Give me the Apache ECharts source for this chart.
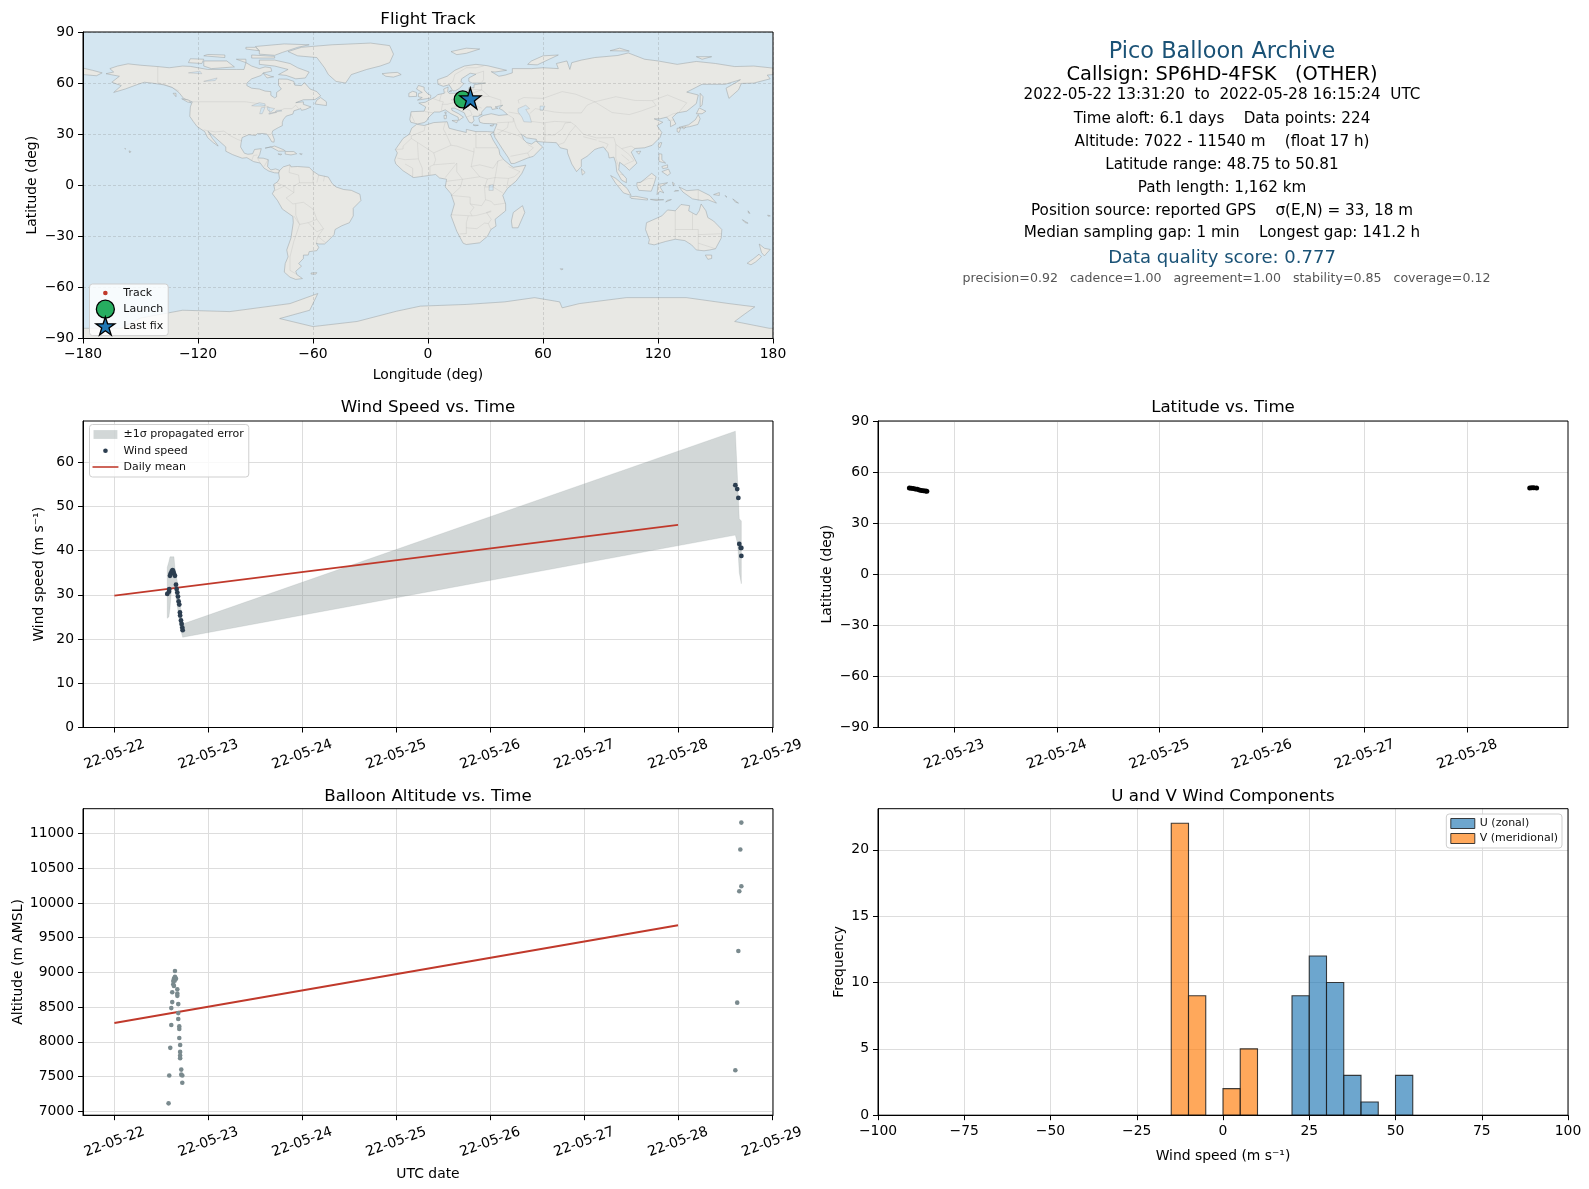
<!DOCTYPE html>
<html><head><meta charset="utf-8">
<style>html,body{margin:0;padding:0;background:#fff}#c{width:1589px;height:1189px}</style>
<script src="https://cdn.jsdelivr.net/npm/echarts@6/dist/echarts.min.js"></script>
</head><body><div id="c"></div>
<script>
// ---------- chart values ----------
const dateLabels = ['22-05-22','22-05-23','22-05-24','22-05-25','22-05-26','22-05-27','22-05-28','22-05-29'];
const dayTicks = [0,1,2,3,4,5,6,7];
const latDayTicks = [1,2,3,4,5,6];
// times are days after 2022-05-22 00:00 UTC
const windTimes = [.563,.581,.584,.592,.599,.61,.62,.627,.634,.645,.656,.663,.67,.677,.684,.691,.698,.70,.709,.716,.723,.727,6.61,6.63,6.642,6.652,6.667,6.674,6.674];
const windSpeeds = [30.2,30.7,31.3,34.3,34.8,35.3,35.6,35.3,34.8,34.3,32.3,31.3,30.5,29.6,28.5,27.8,26,25.3,24.2,23.4,22.6,22,54.8,53.9,51.9,41.5,40.6,40.6,38.8];
const bandTimes = [.563,.58,.592,.61,.634,.645,.67,.70,.727,6.61,6.635,6.652,6.674];
const bandUpper = [36.2,37.5,38.6,38.6,38.6,36,33,28,23.4,67,55.4,47.2,46.7];
const bandLower = [24.7,25,27,31.7,31.5,31,27.5,22.5,20.4,43.5,41.5,35,32.5];
const meanDays = [0,6];
const meanWind = [29.8,45.8];
const meanAlt = [8270,9680];
const latTimes = [.563,.58,.6,.62,.64,.66,.68,.7,.72,.733,6.61,6.63,6.65,6.677];
const latValues = [50.6,50.5,50.3,50.1,49.9,49.5,49.2,49,48.85,48.75,50.7,50.81,50.75,50.7];
const altTimes = [.577,.584,.595,.606,.606,.616,.616,.627,.627,.634,.634,.642,.645,.645,.656,.67,.67,.67,.68,.68,.68,.691,.691,.691,.70,.70,.70,.70,.712,.712,.723,.723,6.61,6.63,6.642,6.652,6.663,6.674,6.674];
const altValues = [7114,7514,7913,8242,8486,8572,8715,8829,8877,8805,8910,8880,8938,9020,8910,8758,8695,8662,8543,8414,8328,8222,8185,8056,7955,7855,7802,7765,7600,7527,7514,7411,7590,8564,9309,10169,10771,10241,11158];
const binLeft = [-15,-10,0,5,20,25,30,35,40,50];
const binSeries = ['V','V','V','V','U','U','U','U','U','U'];
const binCount = [22,9,2,5,9,12,10,3,1,3];
const yTicksWind = [0,10,20,30,40,50,60];
const yTicksAlt = [7000,7500,8000,8500,9000,9500,10000,10500,11000];
const yTicksHist = [0,5,10,15,20];
const launchPoint = [18.1,50.4];
const lastFixPoint = [22.1,51];
const trackLon = [18.1,18.8,19.4,20,20.6,21.2,21.6,21.9,22.1];
const trackLat = [50.4,50.1,49.8,49.2,48.75,49.3,50,50.6,50.81];

// info panel text
const infoTitle = 'Pico Balloon Archive';
const infoCall = 'Callsign: SP6HD-4FSK   (OTHER)';
const infoLines = ['2022-05-22 13:31:20  to  2022-05-28 16:15:24  UTC','Time aloft: 6.1 days    Data points: 224','Altitude: 7022 - 11540 m    (float 17 h)','Latitude range: 48.75 to 50.81','Path length: 1,162 km','Position source: reported GPS    σ(E,N) = 33, 18 m','Median sampling gap: 1 min    Longest gap: 141.2 h'];
const infoScore = 'Data quality score: 0.777';
const infoSub = 'precision=0.92   cadence=1.00   agreement=1.00   stability=0.85   coverage=0.12';

// map outlines, lon/lat
const northAmerica = [[-168,65.5],[-164,66.5],[-166,68.5],[-162,70],[-156.5,71.3],[-150,70.5],[-141,69.7],[-135,69],[-128,70],[-124,69.8],[-115,68],[-108,68],[-100,68],[-96,68],[-95,72],[-92,70],[-88,68.5],[-85,69.5],[-82,69],[-81.5,67],[-86,66],[-87,64.5],[-92,62.5],[-94.5,60],[-94.5,58.5],[-92,57],[-88,56.5],[-85,55.3],[-82,55],[-82,52.8],[-80,51.3],[-79,52],[-79,54.5],[-76.5,56.5],[-78,58.8],[-78,62.4],[-73.5,62.3],[-70,61],[-69.5,58.8],[-66,58.5],[-64.5,60.3],[-61.5,56.5],[-58,55],[-56,52.5],[-59,50.3],[-65,50.2],[-69,48.5],[-65,49],[-65,47.5],[-61,46],[-64,44.5],[-66,44],[-66.5,45.2],[-67,44.8],[-70,43.7],[-70.5,41.8],[-74,40.6],[-75.5,38.5],[-76,36.9],[-76,35],[-78,33.9],[-81,32],[-81.4,30.5],[-80.2,27],[-80.3,25.3],[-81.5,25.5],[-82.8,28],[-84,30],[-86,30.4],[-89,30.3],[-90,29.2],[-93.5,29.7],[-97,28],[-97.5,25],[-97.8,22.5],[-95.8,18.8],[-94,18.2],[-91.5,18.5],[-90.5,21],[-87,21.5],[-87.8,18],[-88.8,16],[-86,15.9],[-83.3,15],[-83.7,11],[-82,9],[-79.5,9.6],[-77.4,8.7],[-77.9,7.2],[-80,7.3],[-83,8.3],[-85.5,10],[-87.5,13],[-91,13.9],[-94.5,16.2],[-97,15.9],[-102,18],[-105.5,20],[-105.5,22.5],[-109,26],[-112.5,29.5],[-114.8,31.7],[-112.5,27.5],[-110,24],[-109.5,23],[-112,25],[-115,28],[-116.5,31.5],[-120.5,34.5],[-122.5,37.5],[-124.3,40.5],[-124,46],[-123,49],[-127.5,51],[-130,54.5],[-133.5,57.5],[-138,59],[-144,60],[-148,60.5],[-152,59],[-158,56.5],[-164,54.5],[-160,58.5],[-165,60.5],[-161,64]];
const southAmerica = [[-77.4,8.7],[-75.5,10.8],[-72,12],[-71.5,10.8],[-68,11],[-62,10.5],[-60,8.3],[-57,6],[-52,4.8],[-50,1],[-48,-1],[-44,-2.5],[-40,-3],[-35.5,-5.3],[-35,-9],[-39,-13.5],[-39,-18],[-41,-22],[-45,-23.8],[-48.5,-26],[-49,-29],[-52,-32.5],[-54,-34.5],[-57,-34.5],[-58.3,-34],[-57,-36.5],[-58,-38.4],[-62,-39],[-62.5,-41],[-65,-41],[-65,-43],[-67.5,-46],[-66,-47.5],[-69,-50.5],[-68.4,-52.5],[-65.5,-54.8],[-69,-55.3],[-72,-54],[-75,-51],[-74.5,-46],[-73,-42],[-73.7,-38],[-71.5,-31],[-70.3,-22],[-70.5,-18.3],[-76,-14],[-78.5,-9],[-81.2,-5],[-80,-2.5],[-80.5,.5],[-78.5,2],[-77.5,4],[-77.9,7.2]];
const eurasia = [[-5.5,36],[-9,37],[-9.5,38.7],[-8.8,43.2],[-2,43.5],[-1.2,46],[-4.8,48.3],[-1.5,48.7],[1.5,50.5],[4,52],[5,53.2],[8.5,54],[8.2,56.5],[10.5,57.7],[10.3,55],[11,54],[14,54],[18.5,54.7],[21,55.5],[21.5,57.5],[24,57.2],[24,59],[28,59.7],[30,60],[23,60],[21.3,61],[21.3,63],[25,65.2],[22,65.8],[17.5,62.5],[17.2,60.7],[18.7,59.7],[16.5,57],[14.3,55.5],[13,55.4],[11,59],[8,58.1],[5.2,59.3],[5,62],[10,64],[14,67.5],[19,70],[25,71],[31,70.2],[41,67.5],[35,66.5],[33,66.7],[37,64],[40.3,64.7],[44,66],[44,68.5],[54,68.5],[60,69],[68,68.5],[67,71.5],[72.5,73],[74,68],[75,72],[80,73.5],[87,75],[99,76.2],[104.5,77.7],[113,74],[120,73],[130,71],[140,72.7],[150,71.5],[160,69.7],[170,70],[180,68.8],[180,65],[177,64.7],[178.5,62.5],[170,60],[163.5,59.8],[162,56],[157,51],[155.5,57],[161,60.5],[163,62],[155,59.3],[143,59.3],[135,54.7],[141,53],[140,48],[135,43.5],[130,42.5],[127.5,39.8],[129.3,36],[126.5,34.4],[126.5,37.5],[124.5,40],[121,39],[118,39],[122.5,37],[119.5,35],[122,31],[121,28],[117,23.5],[113,22],[108,21.6],[106,19.5],[109,13],[105,8.8],[103,11],[100,13.5],[99.5,9],[103.5,4],[103.5,1.5],[101,3],[98.5,8],[98,13],[97,16.5],[94.5,16],[94,19],[91.5,22.5],[89,21.8],[87,21],[83,17],[80,15],[80,11],[77.5,8],[75,12.5],[72.8,19],[72.7,21],[69,22],[67,25],[61,25.3],[57,25.7],[56.5,27],[51.5,27.8],[48.7,30],[50,26.7],[51.5,25],[54,24.2],[56.3,26],[59.8,22.5],[55,17],[52,16],[45,12.8],[43.3,12.8],[42,16],[39,21],[35,28],[34.5,29.5],[34.3,31.3],[36,36],[32,36.2],[29,36.3],[27,37],[26.5,39.5],[29,41],[33,42],[37,41],[41.5,41.5],[39,44],[37,45.2],[39,47],[35,46],[36.5,45.2],[33.5,44.5],[33,46],[30.5,46],[28,43],[28,41.5],[26,40.5],[23.5,40.5],[24,38],[23,36.5],[21.5,37],[19.5,41],[19,42.5],[14,45.3],[12.3,45.3],[12.5,44],[16,42],[18.5,40],[16,38],[15.7,40],[12,42],[9,44.3],[6,43],[3.2,43],[0,39.5],[-.5,38],[-2,36.8]];
const eurasiaWest = [[-180,68.8],[-175,67.5],[-170,66],[-173,64.3],[-180,65]];
const africa = [[-5.9,35.8],[-2,35.1],[3,36.8],[10,37.3],[11,33.5],[15,32.3],[20,31],[20,32.8],[25,31.5],[31,31.5],[34.3,31.2],[32.6,29.9],[34,26.5],[37,21],[37.5,18],[39.5,15],[43.2,11.5],[44.5,10.5],[51,11.8],[49,7],[46,2.5],[41.5,-1.8],[39,-6],[40.5,-11],[40.5,-15],[35,-20],[35.5,-24],[32.8,-26],[31,-30],[27,-33.8],[20,-34.8],[18.3,-34],[15,-27],[12,-18],[13.8,-11],[12,-5],[9,-1],[9.7,3.5],[6,4.3],[4,6.3],[-3,5.2],[-7.5,4.5],[-13,8.5],[-16.8,12.5],[-17.4,14.8],[-16,19],[-17,21],[-13,27.5],[-9.7,30],[-8.5,33.5]];
const australia = [[114,-22],[113.5,-26],[115.5,-32],[115,-34.3],[118,-35],[124,-33],[129,-31.7],[134,-32.5],[137.5,-35],[140,-38],[144,-38.5],[147,-38],[150,-37.3],[153,-31],[153.3,-26],[149,-21],[146,-19],[145,-15],[142.5,-11],[141.5,-15],[140,-17.5],[136,-15],[136.5,-12],[132,-11.3],[129,-15],[125,-14.5],[122,-18],[117,-20.5]];
const antarctica = [[-180,-84],[-160,-84],[-150,-78],[-128,-73.4],[-103.4,-74.2],[-72,-69.5],[-57.5,-63.6],[-61.7,-73.4],[-77.4,-78.3],[-60,-83],[-37,-80],[-16.5,-74],[-4,-71],[20,-70],[40,-68.5],[55.6,-66],[68.7,-68.5],[70,-72],[79,-69.5],[103.5,-66],[134.8,-66],[157,-69.5],[170.5,-71.4],[164.4,-76.3],[160,-80],[178,-84],[180,-84],[180,-90],[-180,-90]];
const greenland = [[-73,78.5],[-66,81],[-50,82.5],[-30,83.5],[-20,82],[-18,77],[-20,72],[-25,70],[-32,68],[-40,65],[-43,60],[-48,61],[-52,65],[-54,69],[-58,75],[-68,76]];
const arcticIslands = [
 [[-80,73.5],[-72,71.5],[-68,69],[-62,66.5],[-64,63],[-69,62.5],[-74,64.5],[-78,65],[-73,68],[-80,70],[-88,71],[-88,73.5]],
 [[-117,73],[-105,73],[-101,69.5],[-113,68.5],[-117,70]],
 [[-88,77],[-80,76.3],[-76,78],[-68,81],[-62,82.5],[-75,83],[-90,81.5],[-88,79]],
 [[-125,72],[-118,71.5],[-117,74],[-124,74.3]],
 [[-92,74.7],[-80,74.7],[-80,75.7],[-92,76.5]],
 [[-117,76],[-106,75],[-106,76.5],[-115,76.8]],
 [[-100,74],[-95,72],[-95,74]],
 [[-95,80],[-88,79],[-90,81],[-95,81]],
 [[-86,65.8],[-82,64],[-80.5,63.7],[-84,63]],
 [[12,78.5],[20,80.5],[27,80],[20,77.5],[15,76.7]],
 [[52,71],[57,70.7],[68,76.5],[60,76],[54,73]],
 [[95,79],[100,80.5],[105,78.8]],
 [[140,75.5],[148,75.5],[143,74]]
];
const atlanticIslands = [
 [[-59,47.7],[-53,46.8],[-53,49],[-56,51.5],[-58,50]],
 [[-24,65.5],[-22,64],[-18,63.5],[-14,65],[-16,66.3],[-20,66]],
 [[-85,21.8],[-80,23],[-75,20.7],[-74.5,20.1],[-78,20],[-82,22.5]],
 [[-74.5,19.8],[-70,19.8],[-68.5,18.5],[-71.5,17.8],[-74.5,18.3]],
 [[-78.3,18.4],[-76.3,18.2],[-77,17.8]],
 [[-67,18.5],[-65.6,18.4],[-66,18]],
 [[-61,-51.5],[-58,-51.3],[-58.5,-52.2],[-61,-52.2]],
 [[-128.5,50.8],[-125,50],[-123.5,48.4],[-125.5,48.9]],
 [[-133,54],[-131.5,54],[-131.5,52]],
 [[-156,20.2],[-155,19.8],[-155.6,19]],
 [[-158.2,21.6],[-157.7,21.4],[-158,21.2]],
 [[-5.5,50],[1.3,51.2],[1.5,52.8],[0,53.5],[-2,56],[-2,57.6],[-5,58.6],[-6,56.5],[-3,54.5],[-5,53.8],[-5,52],[-3,51.5]],
 [[-10,52],[-6,52.2],[-6,54.5],[-8,55.2],[-10,54]],
 [[12.5,38],[15.5,38.2],[15,36.7]],
 [[8.3,41],[9.7,41],[9.5,39.1],[8.5,39]],
 [[8.7,42.9],[9.5,43],[9.3,41.5]],
 [[23.5,35.5],[26.3,35.2],[24.5,34.9]],
 [[32.3,35],[34.5,35.6],[33.5,34.7]],
 [[12,55.8],[12.5,55.3],[11,55]],
 [[49.3,-12],[50.5,-16],[47,-25],[44,-25],[43.5,-21],[44.5,-16]]
];
const asiaPacificIslands = [
 [[142,54],[143.5,52],[143,47],[142,46],[142,50]],
 [[140,42],[141.5,45.4],[145,43.5],[143,42]],
 [[130.9,34],[136,35.5],[139.5,38.5],[141,41.5],[142,39],[140.8,35.7],[136.5,34.4],[132,33.7]],
 [[130,33.5],[131.8,33.5],[131,31],[130,31.5]],
 [[132.5,34],[134.5,34.2],[133.5,33]],
 [[121,25],[122,25],[121,22],[120,23]],
 [[108.7,19.8],[111,20],[110,18.2]],
 [[120.5,18.5],[122,18.3],[122,15],[124,13],[120.5,14]],
 [[122,8],[125.5,9.5],[126.5,7],[125,5.7]],
 [[122,11],[125,12],[125,10.3],[122.5,9.8]],
 [[95.3,5.7],[98,4],[104,-2],[106,-6],[102,-4.5],[98,1]],
 [[105.2,-6.8],[108.5,-6.5],[114.5,-7.8],[114.5,-8.7],[106,-7.7]],
 [[109,1.5],[111,1.7],[116.7,7],[119,5],[118,1],[116.5,-3.5],[110,-3],[109,-.5]],
 [[119.5,-5.5],[120,.5],[125,1.5],[121,-1],[123,-4.5],[121,-3.5]],
 [[131,-1],[135,-3.2],[141,-2.6],[147,-6],[150.5,-10.5],[146,-8.5],[143,-9],[138,-8],[133,-4]],
 [[80,9.7],[82,7.5],[80.5,6]],
 [[116,-8.3],[120,-8.3],[123,-8.5],[119,-9]],
 [[124,-9.8],[127,-8.4],[125,-8.8]],
 [[127.5,1.8],[128.5,1],[128,-.5]],
 [[129,-3],[130.8,-3.2],[128.5,-3.6]],
 [[149,-5.5],[152,-4.3],[152,-6]],
 [[155,-6],[156,-7],[155.5,-6.8]],
 [[159,-8],[162,-10.5],[160.5,-10]],
 [[164,-20.2],[167,-22.3],[165.5,-22]],
 [[167,-15],[168,-16.5],[167.2,-16.3]],
 [[177.2,-17.5],[178.6,-18],[177.5,-18.2]],
 [[144.7,-41],[148,-41],[148,-43],[146,-43.5]],
 [[172.8,-34.5],[175.5,-37],[178.5,-37.7],[175.5,-41.5],[174,-39.5]],
 [[172.7,-40.5],[174,-42],[171,-45],[168.5,-46.7],[166.5,-45.8],[170,-43]],
 [[69,-49],[70.5,-49.2],[69.5,-49.7]]
];
const inlandWaters = [
 [[47,45],[51,47],[53,45],[51,44.5],[53,41],[54,37],[50,37.3],[49,40],[47,43]],
 [[58.5,46.5],[61,46.5],[60,44],[58.5,44]],
 [[-92,46.7],[-88,48.5],[-85,47.8],[-85,46.5],[-90,46.5]],
 [[-87.8,42],[-86.5,42],[-85,45.8],[-87,45.5]],
 [[-84,46],[-80,45],[-82,43],[-83.5,44]],
 [[-83,41.7],[-79,42.8],[-79,43],[-83,42.3]],
 [[-79.7,43.3],[-76.3,43.5],[-76.5,44],[-79,44]],
 [[-125,66],[-119,67],[-118,65.5]],
 [[-117,61],[-110,63],[-111,61.5]],
 [[31.8,-3],[34,-3],[34,.3],[32,0]]
];
const oceanBox = [[-180,-90],[180,-90],[180,90],[-180,90]];
const borders = [
 [[-141,69.7],[-141,60.3],[-137,59],[-130,55.5]],
 [[-123,49],[-95,49],[-89,48],[-83,46],[-82.5,42],[-79,43],[-75,45],[-71,45],[-69,47],[-67.5,45]],
 [[-117,32.5],[-111,31.3],[-106.5,31.8],[-103,29],[-99.5,27],[-97.2,26]],
 [[-92,14.5],[-91,17.5],[-89,17.8]],[[-89,15.9],[-87.5,13]],[[-83.5,15],[-85.5,11]],
 [[-72,11.8],[-72.5,7.5],[-67.5,6],[-67,1.5]],
 [[-60,8.3],[-60,5],[-60,1.5],[-67,1.5],[-70,-.5],[-70,-4.3],[-74,-7.5],[-70.5,-11],[-65,-10],[-60,-14],[-58,-20],[-54.5,-25.5],[-57.5,-30],[-53.5,-33.7]],
 [[-80.3,-3.4],[-75,-.5],[-70,-4.3]],[[-79,1.5],[-75,-.5]],
 [[-70,-18],[-67,-23],[-70,-33],[-72,-42],[-72,-50],[-68.5,-52.3]],
 [[-69,-11],[-69,-17.5],[-67,-23],[-62.5,-22],[-58,-20]],
 [[-62.5,-22],[-58,-27.3],[-54.5,-25.5]],[[-58.3,-34],[-57.5,-30]],
 [[-57,6],[-58,1.5]],[[-54,5.5],[-54.5,2.3]],
 [[9,37],[8,33],[9.5,30],[12,23.5],[15,23],[24,19.5]],[[25,31.5],[25,22],[36.5,22]],[[24,22],[24,19.5]],
 [[-8.7,27.5],[3,19],[12,23.5]],[[-17,21],[-13,21.3],[-13,23],[-8.7,27.5]],[[-12,15],[-5,15.5],[-5.5,25]],
 [[-1.5,35],[-2,32],[-8.7,29],[-8.7,27.5]],[[3,19],[4,15],[3,12],[14,13]],[[-12,15],[-16,16]],[[-5,15.5],[-3,10],[-3,5.2]],[[1,6],[1,11],[3,12]],[[-8,4.5],[-8,10],[-12,12.5]],
 [[24,19.5],[22.5,11],[27,5],[31,3.7],[35,4.5],[42,4],[41,-1.6]],[[36.5,14.3],[35,4.5]],[[42,11],[48,8],[45,5],[42,4]],[[22.5,11],[27,12],[34,10],[36.5,14.3],[39,15]],
 [[9,4.5],[15,13]],[[9.5,2.3],[18,3.5],[27,5]],[[15,13],[15,8],[18,3.5],[17,-1],[12.2,-6]],
 [[12.2,-6],[22,-7],[22,-11],[28,-12],[30,-8.5],[29.5,-1.5],[31,3.7]],[[34,-1],[39,-4.5]],[[29.5,-1],[34,-1],[35,4.5]],[[40.5,-10.5],[34.5,-11.5],[33,-9.5],[30,-8.5]],
 [[11.8,-17.3],[23,-18],[25,-17.8],[33,-15.5]],[[22,-11],[24,-13],[22,-16],[23,-18]],[[16.5,-28.6],[20,-28.4],[20,-22],[21,-18]],[[20,-25],[25.5,-25.5],[29.5,-22.2],[31.5,-22.5],[32.8,-26]],[[33,-15],[30.5,-16],[33,-20],[31.5,-22.5]],
 [[-1.8,43.3],[3,42.5]],[[2.5,51],[6,49.5],[8,49],[7.5,47.5],[7,44]],[[-9,42],[-7,37.2]],[[7,53.5],[6,49.5]],[[8.7,54.8],[9.5,54.7]],
 [[14.2,54],[15,51],[12,50.3],[13.8,48.7],[10,47.5],[7.5,47.5]],[[15,51],[19,49.5],[22,49]],[[13.8,48.7],[17,48],[22,48],[28,45.3]],[[13.5,46.5],[16,46],[22,44],[23,41.3],[20,40]],[[22,48],[24,51.7],[32,52.2],[38,50],[38,47]],[[24,51.7],[23,54],[21,55.5]],[[23,54],[28,56],[28,59.5]],[[21,56.5],[28,56]],[[32,52.2],[28,56]],
 [[29,41],[26.5,41.8],[28,41.5]],[[11,59],[13,61],[14,65],[20,69],[25,69],[29,70]],[[25,65.5],[29,67],[29,62],[28,60.5]],
 [[47,50],[50,51.5],[60,51],[70,55],[77,53.5],[87,49]],[[47.5,48],[47,50]],[[87,49],[98,52],[108,49.8],[117,49.7],[119,46.8],[111,43.5],[105,41.5],[96,42.7],[87,49]],[[117,49.7],[125,53],[135,48.4],[131,43]],[[124.5,40],[128,42],[130.5,42.5]],[[125,38],[128.5,38.4]],
 [[53,42],[56,45],[66,43],[71,42.5],[80,42.5],[83,47],[87,49]],[[54,37.5],[60,36.6],[66,37.5],[74.5,37]],
 [[44.5,39.5],[46,34],[48.5,30]],[[61,25.3],[61,31],[61,36.6]],[[61,29.6],[66,29.5],[70,33],[71.5,36.5],[74.5,37]],[[68,23.8],[71,25],[74,31],[77,35]],
 [[74.5,37],[77,35],[81,30],[88,27.8],[97,28],[98,24],[101,21.5],[106,23],[108,21.6]],[[81,28.5],[88,26.5]],[[89,26],[92,25],[94,24],[92.5,21]],
 [[35,29.4],[39,32],[47.5,29],[50,26.5]],[[36,33],[39,32],[41.5,34],[42,37]],[[43,17],[52,19],[55,22],[52,24]],[[52,19],[53,16.5]],[[36,36.7],[44.5,37.2],[44.5,39.5],[41.5,41.5]],[[42,43],[48,41.8]],
 [[98,24],[98,16],[99.5,11]],[[101,21.5],[105,18],[107.5,14.5],[102.5,12]],[[101,18],[105,14.3]],[[100.2,6.5],[102,6]],[[110,1.5],[115,4],[117.5,4]],
 [[141,-2.6],[141,-9]],[[129,-15],[129,-31.7]],[[138,-16.5],[138,-26],[141,-26],[141,-38]],[[129,-26],[138,-26]],[[141,-29],[153,-28.5]],[[141,-34],[150,-37.3]]
];

// ---------- layout & style ----------
const FONT = 'DejaVu Sans';
const L = 83, R = 878, W = 690, H = 306.5;
const T1 = 32, T2 = 421, T3 = 808.7;
const GRID = '#dddddd';
const uFill = 'rgba(31,119,180,0.65)', vFill = 'rgba(255,127,14,0.68)', barEdge = 'rgba(30,30,30,0.85)';
const BAND = 'rgba(127,140,141,0.35)';
const NAVY = '#2c3e50', RED = '#c0392b', ALT = '#7a8a8e';
const fullLand = [northAmerica,southAmerica,eurasia,eurasiaWest,africa,australia,antarctica,greenland].concat(arcticIslands,atlanticIslands,asiaPacificIslands);
const STAR = 'path://M50 0L61.2 34.5L97.6 34.5L68.2 55.9L79.4 90.5L50 69.1L20.6 90.5L31.8 55.9L2.4 34.5L38.8 34.5Z';
const trackIcon = 'path://M0 0M100 70M50 26A9 9 0 1 0 50.01 26Z';
const legendDot = 'path://M0 0M100 54M50 18A9 9 0 1 0 50.01 18Z';
const legendBar = 'path://M0 0M100 54M0 24L100 24L100 30L0 30Z';
const legendPatch = 'path://M0 0M100 54M4 10L96 10L96 44L4 44Z';

function minus(v){ return String(v).replace('-', '\u2212'); }
function merge(a,b){ const r=Object.assign({},a); for(const k in b){ if(b[k]&&typeof b[k]==='object'&&!Array.isArray(b[k])&&a[k]) r[k]=merge(a[k],b[k]); else r[k]=b[k]; } return r; }
function xAxis(grid, o){
  const base = {gridIndex:grid,type:'value',scale:true,
    axisLine:{show:true,onZero:false,lineStyle:{color:'#000',width:1}},
    axisTick:{show:true,length:5,lineStyle:{color:'#000',width:1}},
    axisLabel:{show:true,color:'#000',fontFamily:FONT,fontSize:13.9,margin:9,hideOverlap:false,showMinLabel:true,showMaxLabel:true},
    splitLine:{show:true,lineStyle:{color:GRID,width:1}},
    nameTextStyle:{color:'#000',fontFamily:FONT,fontSize:13.9}};
  return merge(base,o);
}
function yAxis(grid, o){
  const base = {gridIndex:grid,type:'value',scale:true,
    axisLine:{show:true,onZero:false,lineStyle:{color:'#000',width:1}},
    axisTick:{show:true,length:5,lineStyle:{color:'#000',width:1}},
    axisLabel:{show:true,color:'#000',fontFamily:FONT,fontSize:13.9,margin:9,hideOverlap:false,showMinLabel:true,showMaxLabel:true,formatter:minus},
    splitLine:{show:true,lineStyle:{color:GRID,width:1}},
    nameLocation:'middle',nameRotate:90,
    nameTextStyle:{color:'#000',fontFamily:FONT,fontSize:13.9}};
  return merge(base,o);
}
function timeX(grid,min,max,ticks){
  return xAxis(grid,{min,max,
    axisTick:{customValues:ticks},
    axisLabel:{customValues:ticks,rotate:20,margin:27,align:'center',verticalAlign:'middle',formatter:v=>dateLabels[Math.round(v)]}});
}
function polySeries(name,polys,style,xi,z,closed){
  return {type:'custom',name,xAxisIndex:xi,yAxisIndex:xi,z,silent:true,animation:false,clip:true,
    data:polys.map((_,i)=>i),
    renderItem:(p,api)=>{
      const pts=polys[api.value(0)].map(q=>api.coord(q));
      return {type:closed?'polygon':'polyline',shape:{points:pts},style};
    }};
}
function titleText(text,cx,cy,size,color){
  return {text,left:cx,top:cy-size*0.62,textAlign:'center',padding:0,
    textStyle:{fontFamily:FONT,fontSize:size,fontWeight:'normal',color:color||'#000',lineHeight:size*1.2}};
}
function legendBase(o){
  return Object.assign({orient:'vertical',backgroundColor:'rgba(255,255,255,0.82)',borderColor:'#cfcfcf',borderWidth:1,borderRadius:3,z:20,
    textStyle:{fontFamily:FONT,fontSize:11,color:'#111'},selectedMode:false},o);
}

const CX_L = L+W/2, CX_R = R+W/2, INFO = 1222, INFO_SUB = 1226.5;
const titles = [
  titleText('Flight Track',CX_L,20,16.67),
  titleText('Wind Speed vs. Time',CX_L,407.5,16.67),
  titleText('Latitude vs. Time',CX_R,407.5,16.67),
  titleText('Balloon Altitude vs. Time',CX_L,796.5,16.67),
  titleText('U and V Wind Components',CX_R,796.5,16.67),
  titleText(infoTitle,INFO,53,22.4,'#1a5276'),
  titleText(infoCall,INFO,75,19.4),
  titleText(infoScore,INFO,258.5,18,'#1a5276'),
  titleText(infoSub,INFO_SUB,278.7,12.58,'#555555')
];
const infoY = [95.5,119.5,142.8,165.5,188.7,211.7,233.7];
infoLines.forEach((t,i)=>titles.push(titleText(t,INFO,infoY[i],15.2)));

const option = {
  animation:false,
  backgroundColor:'#fff',
  title:titles,
  grid:[
    {left:L,top:T1,width:W,height:H},
    {left:L,top:T2,width:W,height:H},
    {left:R,top:T2,width:W,height:H},
    {left:L,top:T3,width:W,height:H},
    {left:R,top:T3,width:W,height:H}
  ].map(g=>Object.assign(g,{show:true,z:6,borderColor:'#000',borderWidth:1,backgroundColor:'transparent',containLabel:false})),
  xAxis:[
    xAxis(0,{z:5,min:-180,max:180,interval:60,name:'Longitude (deg)',nameLocation:'middle',nameGap:30,
      axisLabel:{formatter:minus},splitLine:{lineStyle:{color:'rgba(120,120,120,0.24)',type:[3,2],width:1}}}),
    timeX(1,-0.334,7.011,dayTicks),
    timeX(2,.257,6.983,latDayTicks),
    merge(timeX(3,-0.334,7.011,dayTicks),{name:'UTC date',nameLocation:'middle',nameGap:52}),
    xAxis(4,{min:-100,max:100,interval:25,name:'Wind speed (m s\u207B\u00B9)',nameLocation:'middle',nameGap:34,axisLabel:{formatter:minus}})
  ],
  yAxis:[
    yAxis(0,{z:5,min:-90,max:90,interval:30,name:'Latitude (deg)',nameGap:44,splitLine:{lineStyle:{color:'rgba(120,120,120,0.24)',type:[3,2],width:1}}}),
    yAxis(1,{min:0,max:69.3,name:'Wind speed (m s\u207B\u00B9)',nameGap:37,axisTick:{customValues:yTicksWind},axisLabel:{customValues:yTicksWind}}),
    yAxis(2,{min:-90,max:90,interval:30,name:'Latitude (deg)',nameGap:44}),
    yAxis(3,{min:6943,max:11358,name:'Altitude (m AMSL)',nameGap:58,axisTick:{customValues:yTicksAlt},axisLabel:{customValues:yTicksAlt}}),
    yAxis(4,{min:0,max:23.1,name:'Frequency',nameGap:32,axisTick:{customValues:yTicksHist},axisLabel:{customValues:yTicksHist}})
  ],
  legend:[
    legendBase({left:89.5,top:284,padding:[0,5,0,3],itemWidth:26,itemHeight:18,itemGap:-2.5,
      data:[
        {name:'Track',icon:trackIcon,itemStyle:{color:'#c0392b',borderWidth:0,opacity:1}},
        {name:'Launch',icon:'circle',itemStyle:{color:'#27ae60',borderColor:'#000',borderWidth:1.3,opacity:1}},
        {name:'Last fix',icon:STAR,itemStyle:{color:'#1f77b4',borderColor:'#000',borderWidth:1.3,opacity:1}}
      ]}),
    legendBase({left:89.5,top:424.5,padding:[3,5,3,3],itemWidth:26,itemHeight:14,itemGap:2.25,
      data:[
        {name:'\u00B11\u03C3 propagated error',icon:legendPatch,itemStyle:{color:BAND,borderWidth:0}},
        {name:'Wind speed',icon:legendDot,itemStyle:{color:NAVY,borderWidth:0,opacity:1}},
        {name:'Daily mean',icon:legendBar,itemStyle:{color:RED,borderWidth:0}}
      ]}),
    legendBase({right:27,top:814,padding:[4,4,4,4],itemWidth:24,itemHeight:10,itemGap:4,
      data:[
        {name:'U (zonal)',icon:'rect',itemStyle:{color:uFill,borderColor:barEdge,borderWidth:1}},
        {name:'V (meridional)',icon:'rect',itemStyle:{color:vFill,borderColor:barEdge,borderWidth:1}}
      ]})
  ],
  series:[
    // map
    polySeries('ocean',[oceanBox],{fill:'#d4e6f1',stroke:'none'},0,1,true),
    polySeries('land',fullLand,{fill:'#e8e8e4',stroke:'rgba(150,155,158,0.6)',lineWidth:0.8},0,1,true),
    polySeries('waters',inlandWaters,{fill:'#d4e6f1',stroke:'rgba(150,155,158,0.5)',lineWidth:0.6},0,1,true),
    polySeries('borders',borders,{fill:'none',stroke:'rgba(150,150,150,0.22)',lineWidth:0.8},0,1,false),
    {type:'scatter',name:'Track',xAxisIndex:0,yAxisIndex:0,z:8,symbolSize:4,itemStyle:{color:'#c0392b',opacity:1},data:trackLon.map((v,i)=>[v,trackLat[i]])},
    {type:'scatter',name:'Launch',xAxisIndex:0,yAxisIndex:0,z:9,symbol:'circle',symbolSize:17,itemStyle:{color:'#27ae60',borderColor:'#000',borderWidth:1.3,opacity:1},data:[launchPoint]},
    {type:'scatter',name:'Last fix',xAxisIndex:0,yAxisIndex:0,z:10,symbol:STAR,symbolSize:21,itemStyle:{color:'#1f77b4',borderColor:'#000',borderWidth:1.3,opacity:1},data:[lastFixPoint]},
    // wind
    {type:'custom',name:'\u00B11\u03C3 propagated error',xAxisIndex:1,yAxisIndex:1,z:2,silent:true,animation:false,
      itemStyle:{color:BAND},
      data:[0],
      renderItem:(p,api)=>{
        const pts=bandTimes.map((t,i)=>api.coord([t,bandUpper[i]]));
        for(let i=bandTimes.length-1;i>=0;i--) pts.push(api.coord([bandTimes[i],bandLower[i]]));
        return {type:'polygon',shape:{points:pts},style:{fill:BAND,stroke:'rgba(127,140,141,0.2)',lineWidth:0.8}};
      }},
    {type:'line',name:'Daily mean',xAxisIndex:1,yAxisIndex:1,z:3,symbol:'none',lineStyle:{color:RED,width:1.8},itemStyle:{color:RED},data:meanDays.map((d,i)=>[d,meanWind[i]])},
    {type:'scatter',name:'Wind speed',xAxisIndex:1,yAxisIndex:1,z:4,symbolSize:4.8,itemStyle:{color:NAVY,opacity:1},data:windTimes.map((t,i)=>[t,windSpeeds[i]])},
    // latitude
    {type:'scatter',name:'lat',xAxisIndex:2,yAxisIndex:2,z:4,symbolSize:5,itemStyle:{color:'#000',opacity:1},data:latTimes.map((t,i)=>[t,latValues[i]])},
    // altitude
    {type:'line',name:'alt mean',xAxisIndex:3,yAxisIndex:3,z:3,symbol:'none',lineStyle:{color:RED,width:2},data:meanDays.map((d,i)=>[d,meanAlt[i]])},
    {type:'scatter',name:'alt',xAxisIndex:3,yAxisIndex:3,z:4,symbolSize:4.6,itemStyle:{color:ALT,opacity:1},data:altTimes.map((t,i)=>[t,altValues[i]])},
    // histogram
    {type:'custom',name:'U (zonal)',xAxisIndex:4,yAxisIndex:4,z:3,silent:true,animation:false,itemStyle:{color:uFill},
      data:binLeft.map((b,i)=>[b,binCount[i]]).filter((_,i)=>binSeries[i]==='U'),
      renderItem:(p,api)=>barShape(api,uFill)},
    {type:'custom',name:'V (meridional)',xAxisIndex:4,yAxisIndex:4,z:3,silent:true,animation:false,itemStyle:{color:vFill},
      data:binLeft.map((b,i)=>[b,binCount[i]]).filter((_,i)=>binSeries[i]==='V'),
      renderItem:(p,api)=>barShape(api,vFill)}
  ]
};
const BIN_WIDTH = 5;
function barShape(api,fill){
  const a=api.coord([api.value(0),api.value(1)]), b=api.coord([api.value(0)+BIN_WIDTH,0]);
  return {type:'rect',shape:{x:a[0],y:a[1],width:b[0]-a[0],height:b[1]-a[1]},style:{fill,stroke:barEdge,lineWidth:1.1}};
}
const chart = echarts.init(document.getElementById('c'),null,{renderer:'canvas',width:1589,height:1189});
chart.setOption(option);
</script></body></html>
